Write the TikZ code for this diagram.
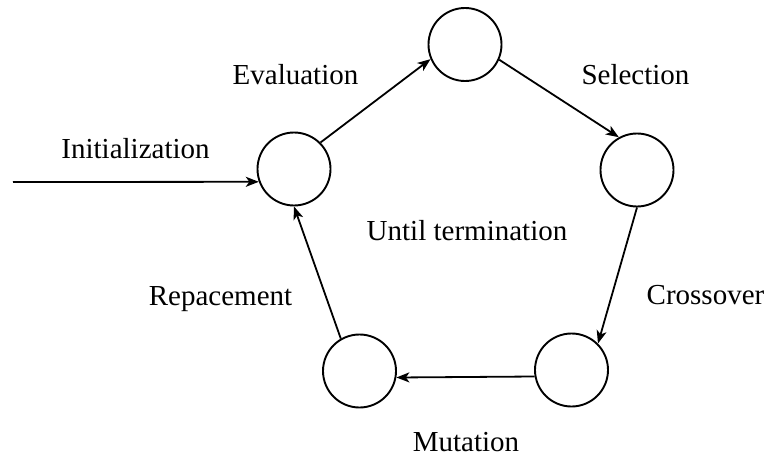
\documentclass[tikz,border=0pt]{standalone}
\usepackage{fontspec}
\setmainfont{Liberation Serif}
\usetikzlibrary{arrows.meta}
\begin{document}
\begin{tikzpicture}[x=1pt,y=-1pt,
  stage/.style={circle, draw, line width=1.9pt, minimum size=73pt, inner sep=0pt},
  flow/.style={line width=1.8pt, -{Stealth[length=13pt,width=10pt,inset=3.5pt]}},
  lbl/.style={font=\fontsize{29}{34}\selectfont, anchor=base, inner sep=0pt}]
\useasboundingbox (0,0) rectangle (768,457);
\node[stage] (top) at (465,44.5) {};
\node[stage] (left) at (294,169) {};
\node[stage] (right) at (637,170) {};
\node[stage] (br) at (571.5,370) {};
\node[stage] (bl) at (359.5,371) {};
\coordinate (start) at (13,182);
\draw[flow] (start) -- (left.200);
\draw[flow] (left.45) -- (top.203);
\draw[flow] (top.-24) -- (right.119);
\draw[flow] (right.south) -- (br.45);
\draw[flow] (br.190) -- (bl.-10);
\draw[flow] (bl.120) -- (left.south);
\node[lbl] (tinit) at (135.5,159) {Initialization};
\node[lbl] (teval) at (295.5,85) {Evaluation};
\node[lbl] (tsel) at (635.5,85) {Selection};
\node[lbl] (tuntil) at (467,240.5) {Until termination};
\node[lbl] (tcross) at (705.5,304) {Crossover};
\node[lbl] (tmut) at (466,451) {Mutation};
\node[lbl] (trep) at (220.5,305) {Repacement};
\end{tikzpicture}
\end{document}
